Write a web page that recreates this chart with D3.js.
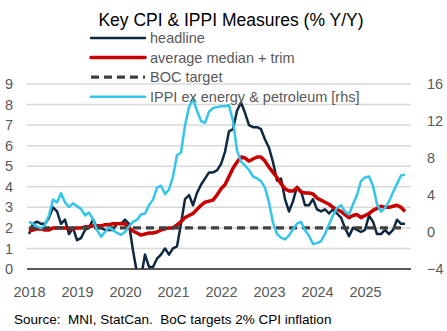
<!DOCTYPE html>
<html>
<head>
<meta charset="utf-8">
<script src="https://cdn.jsdelivr.net/npm/d3@7/dist/d3.min.js"></script>
<style>
  html, body { margin: 0; padding: 0; background: #fff; }
  svg { display: block; }
  text { font-family: "Liberation Sans", Arial, sans-serif; }
</style>
</head>
<body>
<svg id="chart" width="447" height="331"></svg>
<script>
// Monthly series, Jan 2018 onward (% Y/Y)
const years = ["2018", "2019", "2020", "2021", "2022", "2023", "2024", "2025"];

const headline = [
  1.7, 2.2, 2.3, 2.2, 2.2, 2.5, 3.0, 2.8, 2.2, 2.4, 1.7, 2.0,
  1.4, 1.5, 1.9, 2.0, 2.4, 2.0, 2.0, 1.9, 1.9, 1.9, 2.2, 2.2,
  2.4, 2.2, 0.9, -0.2, -0.4, 0.7, 0.1, 0.1, 0.5, 0.7, 1.0, 0.7,
  1.0, 1.1, 2.2, 3.4, 3.6, 3.1, 3.7, 4.1, 4.4, 4.7, 4.7, 4.8,
  5.1, 5.7, 6.7, 6.8, 7.7, 8.1, 7.6, 7.0, 6.9, 6.9, 6.8, 6.3,
  5.9, 5.2, 4.3, 4.4, 3.4, 2.8, 3.3, 4.0, 3.8, 3.1, 3.1, 3.4,
  2.9, 2.8, 2.9, 2.7, 2.9, 2.7, 2.5, 2.0, 1.6, 2.0, 1.9, 1.8,
  1.9, 2.6, 2.3, 1.7, 1.7, 1.9, 1.7, 1.9, 2.4, 2.2, 2.2
];

const medianTrim = [
  1.85, 1.9, 1.95, 1.95, 1.9, 1.9, 2.0, 2.0, 2.0, 2.0, 1.95, 1.95,
  2.0, 2.0, 2.05, 2.05, 2.1, 2.1, 2.1, 2.15, 2.15, 2.2, 2.2, 2.2,
  2.2, 2.0, 1.85, 1.75, 1.65, 1.7, 1.75, 1.75, 1.8, 1.9, 1.95, 2.0,
  2.0, 2.15, 2.3, 2.5, 2.6, 2.7, 2.9, 3.1, 3.25, 3.3, 3.35, 3.6,
  3.9, 4.1, 4.5, 4.9, 5.2, 5.45, 5.4, 5.25, 5.35, 5.45, 5.45, 5.25,
  4.95, 4.7, 4.45, 4.15, 3.9, 3.8, 3.8, 3.95, 3.75, 3.7, 3.7, 3.65,
  3.45, 3.35, 3.25, 3.15, 3.0, 2.9, 2.8, 2.65, 2.5, 2.6, 2.65, 2.5,
  2.6, 2.7, 2.85, 2.95, 3.05, 3.0, 3.0, 3.05, 3.1, 3.0, 2.8
];

const bocTarget = 2;

const ippiExEnergy = [
  1.1, 0.9, 0.6, 0.4, 0.8, 1.8, 3.5, 3.2, 4.2, 3.2, 2.7, 3.1,
  2.8, 2.5, 1.8, 2.1, 1.4, 0.2, -0.5, 0.0, 0.5, 0.2, -0.1, -0.3,
  0.0, 0.6, 1.1, 1.3, 1.9, 2.0, 2.9, 3.5, 4.8, 5.0, 4.1, 4.6,
  6.0, 8.3, 8.6, 11.5, 13.5, 14.4, 13.1, 12.0, 11.8, 13.0, 13.4, 13.5,
  13.6, 13.6, 13.7, 12.0, 8.8, 7.6, 7.2, 6.7, 6.0, 5.8, 5.5, 4.8,
  3.2, 1.0, -0.2, -0.6, -0.8, -0.4, 0.3, 0.9, 1.1, 0.2, -0.4, -1.3,
  -1.2, -1.0, -0.2, 0.8, 1.8, 2.6, 2.9, 2.2, 1.9, 3.0, 4.0, 5.5,
  5.9, 6.0, 5.0, 3.0, 2.2, 2.6, 3.3, 4.3, 5.2, 6.1, 6.2
];

const leftTicks = [0, 1, 2, 3, 4, 5, 6, 7, 8, 9];
const rightTicks = [-4, 0, 4, 8, 12, 16];

const svg = d3.select("#chart");
const plot = { left: 27, right: 411, top: 84, bottom: 269 };

// one category slot per month, points at the slot centres
const x = d3.scaleLinear().domain([-0.5, 95.5]).range([plot.left, plot.right]);
const yL = d3.scaleLinear().domain([0, 9]).range([plot.bottom, plot.top]);
const yR = d3.scaleLinear().domain([-4, 16]).range([plot.bottom, plot.top]);

const grey = "#595959";

// title
svg.append("text")
  .attr("x", 231).attr("y", 26)
  .attr("text-anchor", "middle")
  .attr("font-size", 17.5)
  .attr("fill", "#000")
  .text("Key CPI & IPPI Measures (% Y/Y)");

// gridlines
svg.append("g").selectAll("line")
  .data(leftTicks.filter(d => d > 0))
  .join("line")
  .attr("x1", plot.left).attr("x2", plot.right)
  .attr("y1", d => yL(d)).attr("y2", d => yL(d))
  .attr("stroke", "#d9d9d9").attr("stroke-width", 1.5);

// zero baseline
svg.append("line")
  .attr("x1", plot.left).attr("x2", plot.right)
  .attr("y1", yL(0)).attr("y2", yL(0))
  .attr("stroke", grey).attr("stroke-width", 2);

// axes
const styleAxis = g => {
  g.select(".domain").remove();
  g.selectAll(".tick line").remove();
  g.selectAll("text")
    .attr("font-size", 14.5)
    .attr("fill", grey)
    .attr("font-family", "Liberation Sans, Arial, sans-serif");
};

svg.append("g")
  .attr("transform", `translate(${plot.left - 14},0)`)
  .call(d3.axisLeft(yL).tickValues(leftTicks).tickSize(0).tickPadding(0).tickFormat(d3.format("d")))
  .call(styleAxis);

svg.append("g")
  .attr("transform", `translate(${plot.right + 16},0)`)
  .call(d3.axisRight(yR).tickValues(rightTicks).tickSize(0).tickPadding(0).tickFormat(d3.format("d")))
  .call(styleAxis);

svg.append("g")
  .attr("transform", `translate(0,${plot.bottom + 15})`)
  .call(d3.axisBottom(x).tickValues(years.map((_, i) => i * 12)).tickSize(0).tickPadding(0)
    .tickFormat((d, i) => years[i]))
  .call(styleAxis)
  .selectAll("text").attr("dy", "0.9em");

// clip to the plot area so values under the axis floor are cut off
svg.append("defs").append("clipPath").attr("id", "plotClip")
  .append("rect")
  .attr("x", plot.left).attr("y", plot.top - 10)
  .attr("width", plot.right - plot.left).attr("height", plot.bottom - plot.top + 10);

const lines = svg.append("g").attr("clip-path", "url(#plotClip)");

const lineL = d3.line().x((d, i) => x(i)).y(d => yL(d));
const lineR = d3.line().x((d, i) => x(i)).y(d => yR(d));

const colors = {
  headline: "#0e2841",
  trim: "#c80000",
  target: "#404040",
  ippi: "#33c5ea"
};

lines.append("path").datum(headline)
  .attr("d", lineL).attr("fill", "none")
  .attr("stroke", colors.headline).attr("stroke-width", 2.5)
  .attr("stroke-linejoin", "round");

lines.append("path").datum(medianTrim)
  .attr("d", lineL).attr("fill", "none")
  .attr("stroke", colors.trim).attr("stroke-width", 3.5)
  .attr("stroke-linejoin", "round");

lines.append("path").datum(headline.map(() => bocTarget))
  .attr("d", lineL).attr("fill", "none")
  .attr("stroke", colors.target).attr("stroke-width", 3.2)
  .attr("stroke-dasharray", "8,5");

lines.append("path").datum(ippiExEnergy)
  .attr("d", lineR).attr("fill", "none")
  .attr("stroke", colors.ippi).attr("stroke-width", 2.5)
  .attr("stroke-linejoin", "round");

// legend
const legendItems = [
  { label: "headline", color: colors.headline, width: 2.5, dash: null },
  { label: "average median + trim", color: colors.trim, width: 3.5, dash: null },
  { label: "BOC target", color: colors.target, width: 3.2, dash: "8,5" },
  { label: "IPPI ex energy & petroleum [rhs]", color: colors.ippi, width: 2.5, dash: null }
];

const legend = svg.append("g");
legendItems.forEach((it, i) => {
  const yy = 38 + i * 19.6;
  legend.append("line")
    .attr("x1", 91).attr("x2", 145).attr("y1", yy).attr("y2", yy)
    .attr("stroke", it.color).attr("stroke-width", it.width)
    .attr("stroke-dasharray", it.dash)
    .attr("stroke-linecap", it.dash ? "butt" : "round");
  legend.append("text")
    .attr("x", 150).attr("y", yy + 5)
    .attr("font-size", 14.5).attr("fill", grey)
    .text(it.label);
});

// source note
svg.append("text")
  .attr("x", 14).attr("y", 324)
  .attr("font-size", 13.5).attr("fill", "#000")
  .style("white-space", "pre")
  .text("Source:  MNI, StatCan.  BoC targets 2% CPI inflation");
</script>
</body>
</html>
